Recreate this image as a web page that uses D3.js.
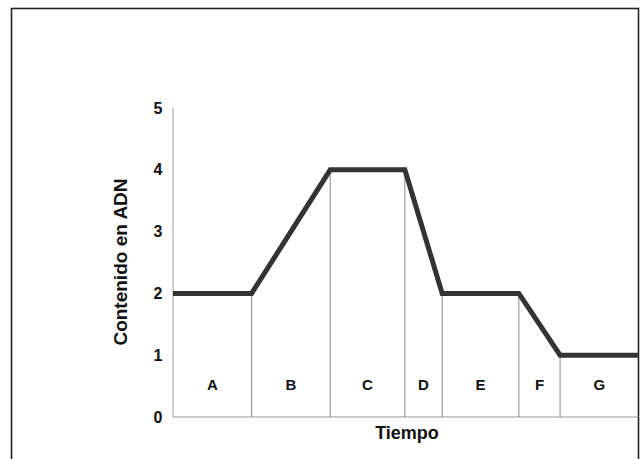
<!DOCTYPE html>
<html>
<head>
<meta charset="utf-8">
<script src="https://cdn.jsdelivr.net/npm/d3@7"></script>
<style>
  body { margin: 0; background: #fff; }
  text { font-family: "Liberation Sans", Arial, sans-serif; font-weight: bold; fill: #111; }
</style>
</head>
<body>
<div id="chart"></div>
<script>
// phase boundaries along the time axis and DNA content at each point
const phases = ['A', 'B', 'C', 'D', 'E', 'F', 'G'];
const bounds = [0, 2, 4, 5.9, 6.85, 8.8, 9.85, 11.85];
const dnaTimes = [0, 2, 4, 5.9, 6.85, 8.8, 9.85, 11.85];
const dnaValues = [2, 2, 4, 4, 2, 2, 1, 1];
const yTicks = [0, 1, 2, 3, 4, 5];

const width = 644, height = 459;

const svg = d3.select('#chart').append('svg')
    .attr('width', width)
    .attr('height', height);

// outer frame
svg.append('rect')
    .attr('x', 11.5).attr('y', 8.5)
    .attr('width', 627).attr('height', 470)
    .attr('fill', 'none')
    .attr('stroke', '#222')
    .attr('stroke-width', 1.6);

const x = d3.scaleLinear().domain([0, 12]).range([173, 644.6]);
const y = d3.scaleLinear().domain([0, 5]).range([417, 108]);
const tEnd = bounds[bounds.length - 1];

// y axis line
svg.append('line')
    .attr('x1', x(0)).attr('x2', x(0))
    .attr('y1', y(5)).attr('y2', y(0))
    .attr('stroke', '#999').attr('stroke-width', 1);

// x axis line
svg.append('line')
    .attr('x1', x(0)).attr('x2', x(tEnd))
    .attr('y1', y(0)).attr('y2', y(0))
    .attr('stroke', '#999').attr('stroke-width', 1);

// vertical phase dividers up to the curve
const lineAt = t => {
    for (let i = 0; i < dnaTimes.length - 1; i++) {
        if (t >= dnaTimes[i] && t <= dnaTimes[i + 1]) {
            let f = (t - dnaTimes[i]) / (dnaTimes[i + 1] - dnaTimes[i]);
            return dnaValues[i] + f * (dnaValues[i + 1] - dnaValues[i]);
        }
    }
    return 0;
};

svg.selectAll('.divider').data(bounds.slice(1, -1)).enter()
    .append('line')
    .attr('x1', d => x(d)).attr('x2', d => x(d))
    .attr('y1', y(0)).attr('y2', d => y(lineAt(d)))
    .attr('stroke', '#888').attr('stroke-width', 1);

// y tick labels
svg.selectAll('.ytick').data(yTicks).enter()
    .append('text')
    .text(d => d)
    .attr('x', x(0) - 15)
    .attr('y', d => y(d))
    .attr('text-anchor', 'middle')
    .attr('dominant-baseline', 'central')
    .style('font-size', '16px');

// phase letters
svg.selectAll('.phase').data(phases).enter()
    .append('text')
    .text(d => d)
    .attr('x', (d, i) => (x(bounds[i]) + x(bounds[i + 1])) / 2)
    .attr('y', y(0.53))
    .attr('text-anchor', 'middle')
    .attr('dominant-baseline', 'central')
    .style('font-size', '15px');

// DNA content curve
const line = d3.line()
    .x((d, i) => x(dnaTimes[i]))
    .y(d => y(d));

svg.append('path')
    .datum(dnaValues)
    .attr('d', line)
    .attr('fill', 'none')
    .attr('stroke', '#333')
    .attr('stroke-width', 5)
    .attr('stroke-linejoin', 'miter');

// axis titles
svg.append('text')
    .text('Tiempo')
    .attr('x', 407)
    .attr('y', 433)
    .attr('text-anchor', 'middle')
    .attr('dominant-baseline', 'central')
    .style('font-size', '18px');

svg.append('text')
    .text('Contenido en ADN')
    .attr('transform', 'translate(120,262) rotate(-90)')
    .attr('text-anchor', 'middle')
    .attr('dominant-baseline', 'central')
    .style('font-size', '19px');
</script>
</body>
</html>
